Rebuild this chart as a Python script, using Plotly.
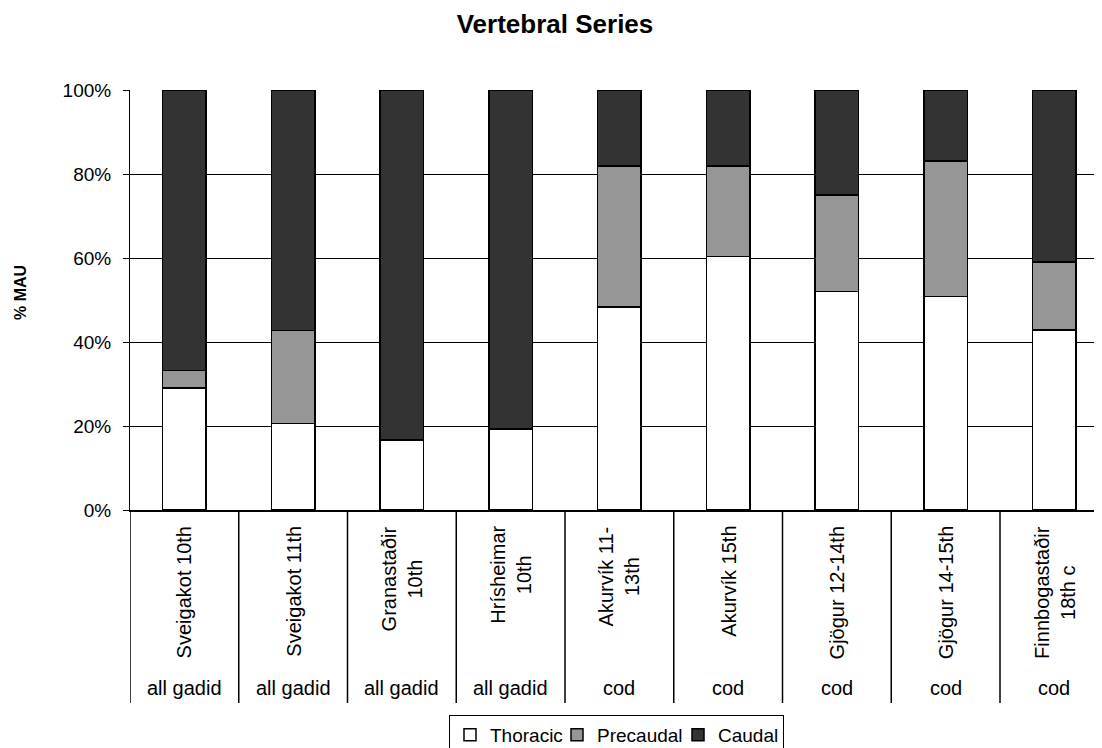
import plotly.graph_objects as go

# ---- data ----
sites = ["Sveigakot 10th", "Sveigakot 11th", "Granastaðir<br>10th", "Hrísheimar<br>10th",
         "Akurvík 11-<br>13th", "Akurvík 15th", "Gjögur 12-14th", "Gjögur 14-15th",
         "Finnbogastaðir<br>18th c"]
groups = ["all gadid", "all gadid", "all gadid", "all gadid", "cod", "cod", "cod", "cod", "cod"]
thoracic = [29.1, 20.6, 16.7, 19.3, 48.3, 60.3, 52.0, 50.8, 42.9]
precaudal = [4.1, 22.1, 0.0, 0.0, 33.6, 21.6, 23.0, 32.3, 16.2]
caudal = [66.8, 57.3, 83.3, 80.7, 18.1, 18.1, 25.0, 16.9, 40.9]
y_ticks = [0, 20, 40, 60, 80, 100]
y_tick_labels = ["0%", "20%", "40%", "60%", "80%", "100%"]

FONT = "Liberation Sans, Arial, sans-serif"
OFF = 8  # page body margin of the rendered html
W, H = 1102 - OFF, 748 - OFF
L, R, T, B = 130 - OFF, 0, 90 - OFF, 238
plot_w = W - L - R
plot_h = H - T - B
slot_px = 108.75

x_idx = list(range(len(sites)))

fig = go.Figure()
for name, vals, col, lw in [("Thoracic", thoracic, "#ffffff", 62),
                            ("Precaudal", precaudal, "#969696", 76),
                            ("Caudal", caudal, "#333333", 60)]:
    fig.add_trace(go.Bar(x=x_idx, y=vals, name=name, legendwidth=lw,
                         marker=dict(color=col, line=dict(color="black", width=1.5))))

def py(page_y):
    # page pixel y -> paper y
    return (510 - page_y) / plot_h

def px(page_x):
    return (page_x - 130) / plot_w

annotations = []
for i, (s, g) in enumerate(zip(sites, groups)):
    annotations.append(dict(x=i, xref="x", y=py(524), yref="paper", text=s,
                            textangle=-90, xanchor="center", yanchor="top",
                            align="center", showarrow=False,
                            font=dict(family=FONT, size=20, color="black")))
    annotations.append(dict(x=i, xref="x", y=py(688), yref="paper", text=g,
                            xanchor="center", yanchor="middle", showarrow=False,
                            font=dict(family=FONT, size=20, color="black")))
annotations.append(dict(x=px(20), xref="paper", y=py(293), yref="paper",
                        text="<b>% MAU</b>", textangle=-90, showarrow=False,
                        xanchor="center", yanchor="middle",
                        font=dict(family=FONT, size=16, color="black")))

shapes = []
for i in range(len(sites) + 1):
    shapes.append(dict(type="line", xref="x", yref="paper", x0=i - 0.5, x1=i - 0.5,
                       y0=0, y1=py(703), line=dict(color="black", width=1.5)))

fig.update_layout(
    width=W, height=H,
    margin=dict(l=L, r=R, t=T, b=B, autoexpand=False),
    paper_bgcolor="white", plot_bgcolor="white",
    barmode="stack", bargap=0.6,
    showlegend=True,
    title=dict(text="<b>Vertebral Series</b>", x=(555 - OFF) / W, xref="container",
               xanchor="center", y=1 - (23.5 - OFF) / H, yanchor="middle",
               font=dict(family=FONT, size=26, color="black")),
    xaxis=dict(range=[-0.5, -0.5 + plot_w / slot_px], showticklabels=False, ticks="",
               showgrid=False, zeroline=False, showline=True, linecolor="black", linewidth=2,
               fixedrange=True),
    yaxis=dict(range=[0, 100], tickvals=y_ticks, ticktext=y_tick_labels,
               ticks="outside", ticklen=6, tickcolor="black", tickwidth=1,
               ticklabelstandoff=8,
               showgrid=True, gridcolor="black", gridwidth=1, zeroline=False,
               showline=True, linecolor="black", linewidth=1,
               tickfont=dict(family=FONT, size=19, color="black")),
    legend=dict(orientation="h", x=px(449), xanchor="left",
                y=py(715), yanchor="top", traceorder="normal",
                bordercolor="black", borderwidth=1, bgcolor="white",
                font=dict(family=FONT, size=19, color="black")),
    annotations=annotations, shapes=shapes,
)

fig.write_html("out.html")
